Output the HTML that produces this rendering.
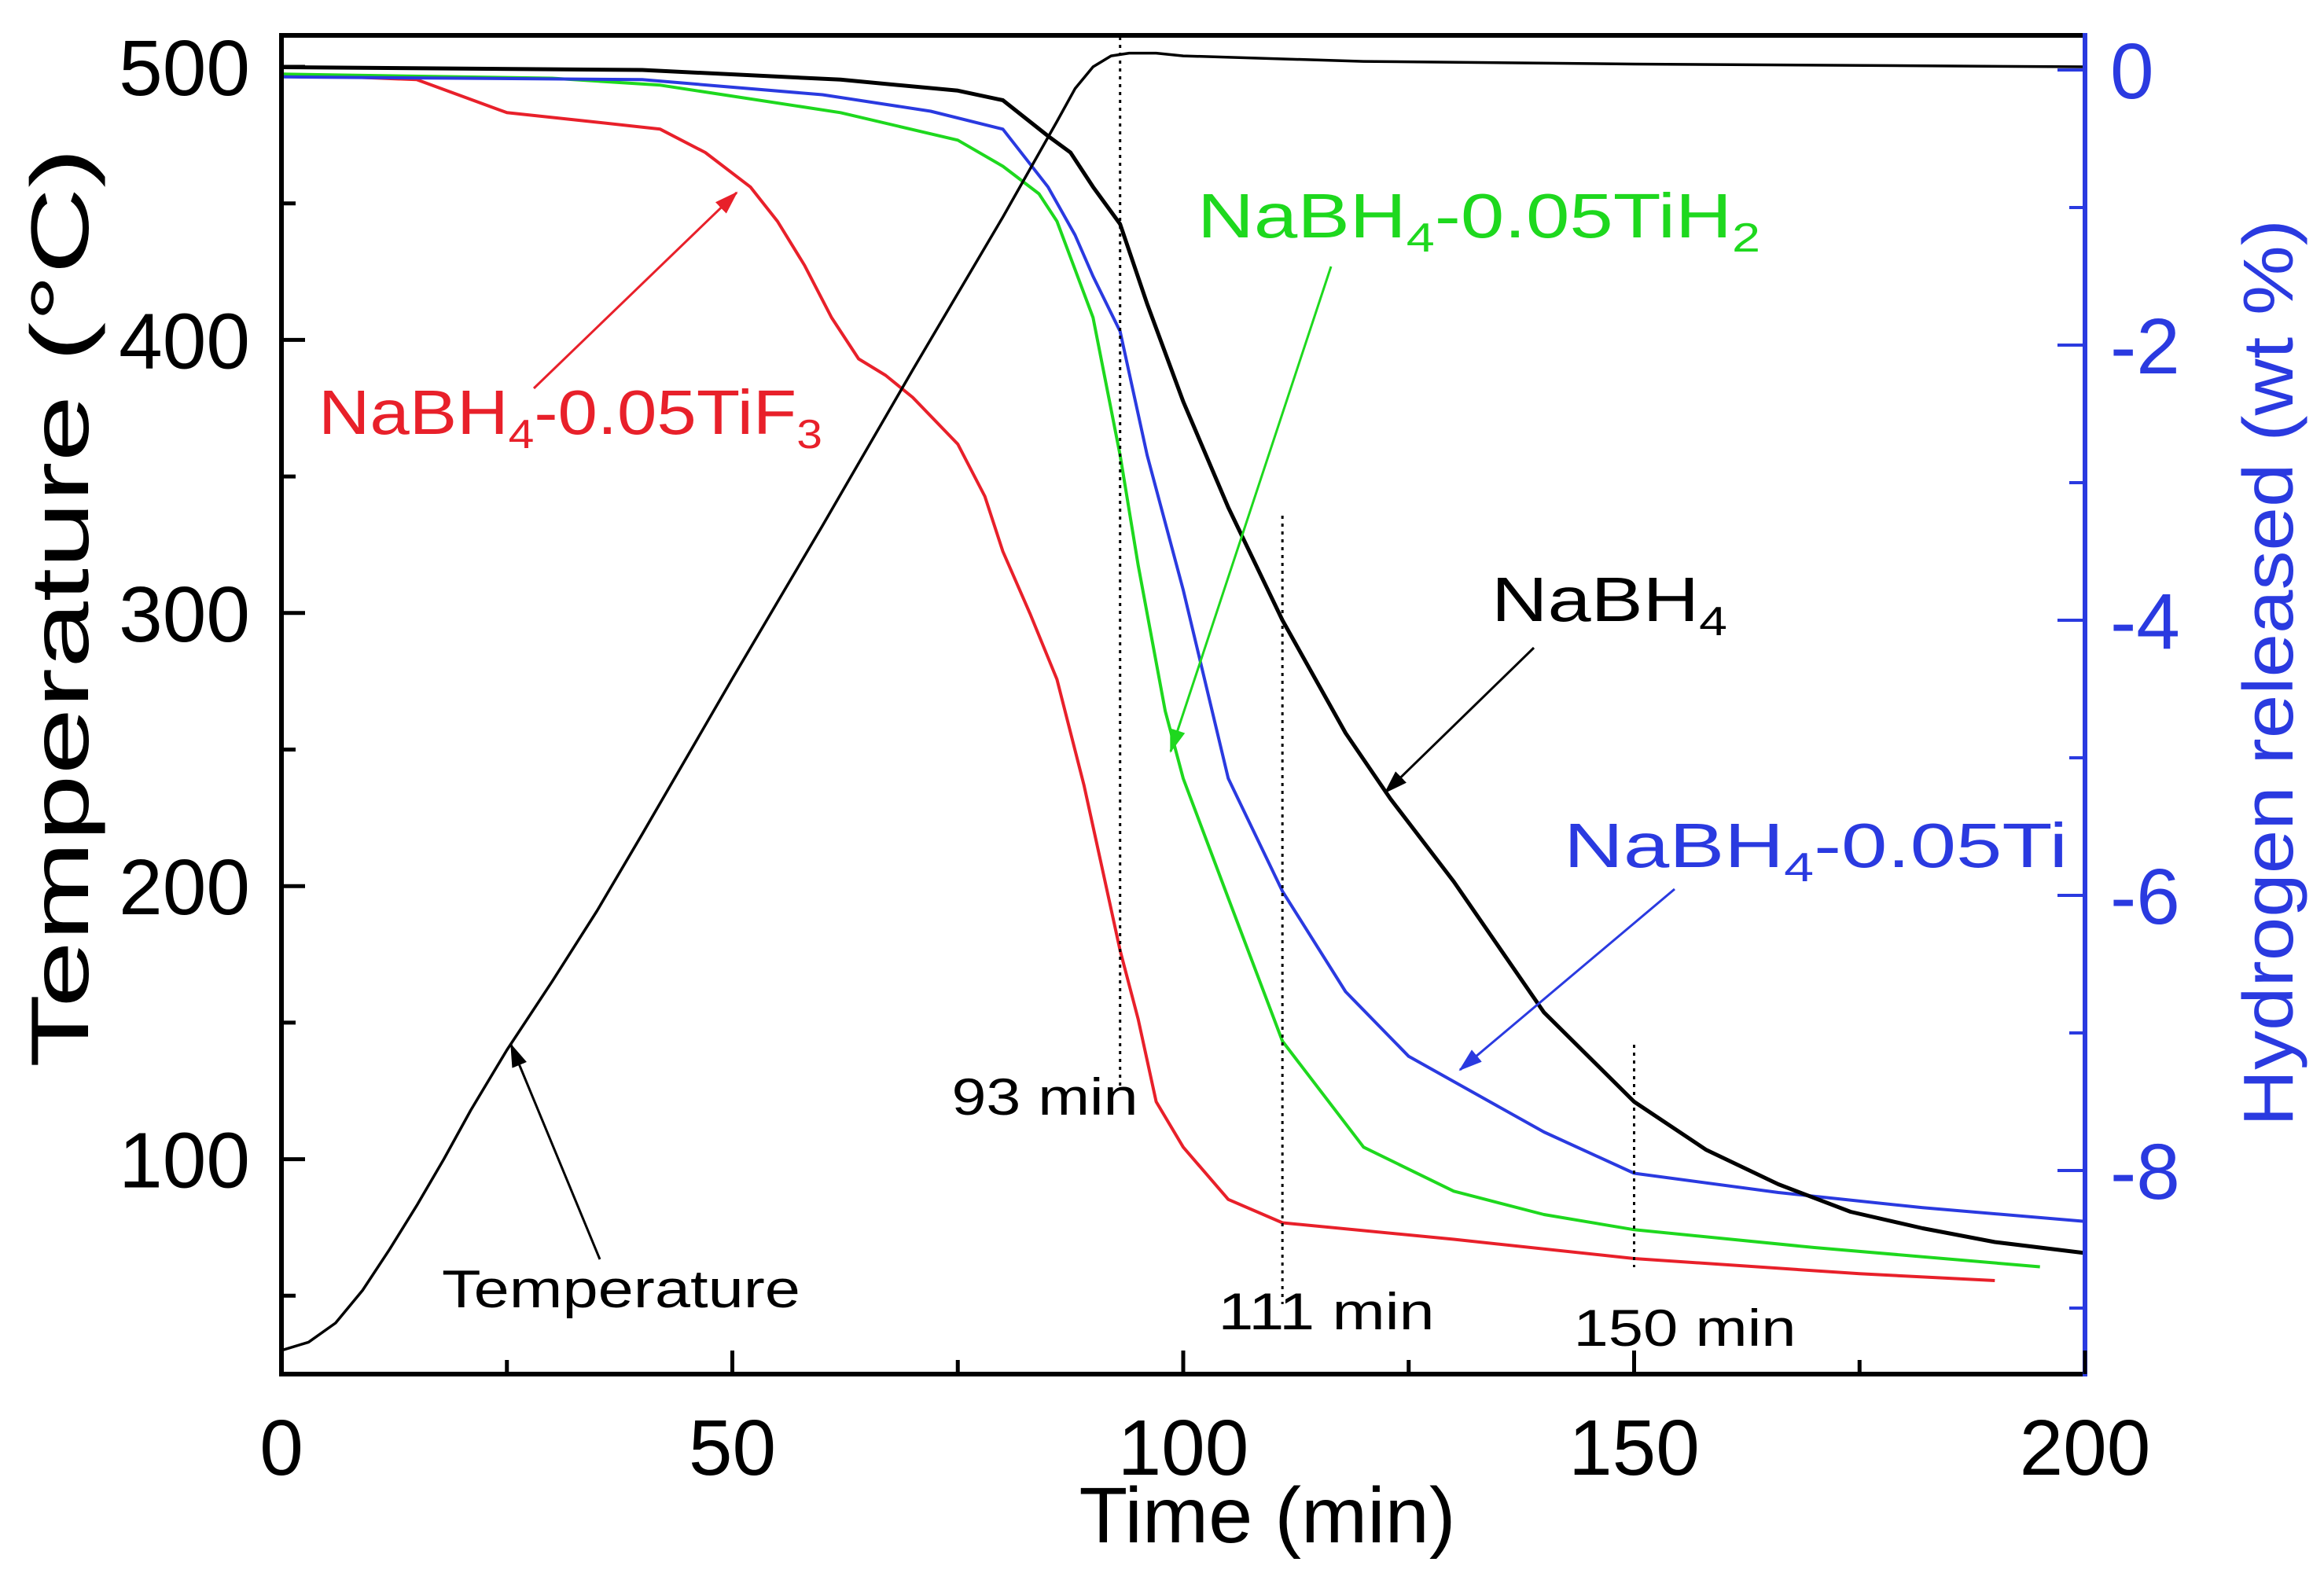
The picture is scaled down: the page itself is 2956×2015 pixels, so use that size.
<!DOCTYPE html>
<html><head><meta charset="utf-8"><style>
html,body{margin:0;padding:0;background:#fff;}
svg{display:block;font-family:"Liberation Sans",Arial,sans-serif;}
</style></head><body>
<svg id="chart" width="2956" height="2015" viewBox="0 0 2956 2015" xmlns="http://www.w3.org/2000/svg">
<g id="plot"></g>
</svg>
<script>
// ---- data ----
const tempTime = [0,3,6,9,12,15,18,21,25,30,35,40,50,60,70,80,86,88,90,92,94,97,100,120,150,200];
const tempValues = [30,33,40,52,67,83,100,118,140,165,191,219,276,332,389,445,480,492,500,504,505,505,504,502,501,500];
const naTime = [0,40,62,75,80,85,87.5,90,93,96,100,105,111,118,123,130,140,150,158,166,174,182,190,200];
const naValues = [0.02,0,-0.07,-0.15,-0.22,-0.48,-0.6,-0.85,-1.12,-1.7,-2.41,-3.18,-4.0,-4.82,-5.3,-5.9,-6.85,-7.5,-7.85,-8.1,-8.3,-8.42,-8.52,-8.6];
const tiTime = [0,40,60,72,80,85,88,90,93,96,100,105,111,118,125,140,150,166,182,200];
const tiValues = [-0.05,-0.07,-0.18,-0.3,-0.43,-0.85,-1.2,-1.5,-1.9,-2.8,-3.78,-5.15,-5.97,-6.7,-7.17,-7.72,-8.02,-8.16,-8.27,-8.37];
const tih2Time = [0,30,42,62,75,80,84,86,88,90,93,95,98,100,105,111,120,130,140,150,170,195];
const tih2Values = [-0.03,-0.06,-0.11,-0.31,-0.51,-0.7,-0.9,-1.1,-1.45,-1.8,-2.8,-3.6,-4.66,-5.15,-6.02,-7.06,-7.83,-8.15,-8.32,-8.43,-8.56,-8.7];
const tif3Time = [0,15,25,35,42,47,52,55,58,61,64,67,70,75,78,80,83,86,89,91,93,95,97,100,105,111,130,150,175,190];
const tif3Values = [-0.03,-0.07,-0.31,-0.38,-0.43,-0.6,-0.85,-1.1,-1.42,-1.8,-2.1,-2.22,-2.38,-2.72,-3.1,-3.5,-3.95,-4.43,-5.2,-5.8,-6.4,-6.9,-7.5,-7.83,-8.21,-8.38,-8.5,-8.64,-8.75,-8.8];
const xTicks = [0,50,100,150,200];
const leftTicks = [100,200,300,400,500];
const rightTicks = [0,-2,-4,-6,-8];
const markerTimes = [93,111,150];

// ---- axes ----
const L=358,R=2652,T=45,B=1748;
const xs = t => L + t*(R-L)/200;
const yL = v => 85 + (500-v)*3.474;
const yR = w => 89 - w*175;
const NS="http://www.w3.org/2000/svg";
const g=document.getElementById('plot');
function mk(tag,attrs,parent){const e=document.createElementNS(NS,tag);for(const k in attrs)e.setAttribute(k,attrs[k]);(parent||g).appendChild(e);return e;}

function series(ts,vs,yf,color,name,w){
  const d=ts.map((t,i)=>(i?'L':'M')+xs(t).toFixed(1)+','+yf(vs[i]).toFixed(1)).join(' ');
  const p=mk('path',{d:d,fill:'none',stroke:color,'stroke-width':w,'stroke-linejoin':'round'});
  
  
}
series(tif3Time,tif3Values,yR,'#e8202a','series-nabh4-tif3',4);
series(tih2Time,tih2Values,yR,'#1ed81e','series-nabh4-tih2',4);
series(tiTime,tiValues,yR,'#2a3ae0','series-nabh4-ti',4);
series(naTime,naValues,yR,'#000','series-nabh4',5);
series(tempTime,tempValues,yL,'#000','series-temperature',3.5);

const markerTop=[47,656,1329], markerBot=[1385,1659,1612];
markerTimes.forEach((m,i)=>{
  const l=mk('line',{x1:xs(m),x2:xs(m),y1:markerTop[i],y2:markerBot[i],stroke:'#000','stroke-width':3,'stroke-dasharray':'4,6'});
  
  
});

const fr=mk('path',{d:`M${R},${T} L${L},${T} L${L},${B} L${R},${B}`,fill:'none',stroke:'#000','stroke-width':6});


const ra=mk('line',{x1:R,x2:R,y1:T-3,y2:B+3,stroke:'#2a3ae0','stroke-width':6});



for(let t=0;t<=200;t+=25){
  const major=t%50===0;
  mk('line',{x1:xs(t),x2:xs(t),y1:B,y2:B-(major?30:18),stroke:'#000','stroke-width':5});
}
xTicks.forEach(t=>{
  const tx=mk('text',{x:xs(t),y:1876,'font-size':100,'text-anchor':'middle',fill:'#000'});
  tx.textContent=t;
  
  
});
for(let v=50;v<=500;v+=50){
  const major=v%100===0;
  mk('line',{x1:L,x2:L+(major?30:18),y1:yL(v),y2:yL(v),stroke:'#000','stroke-width':5});
}
leftTicks.forEach(v=>{
  const tx=mk('text',{x:318,y:yL(v)+36,'font-size':100,'text-anchor':'end',fill:'#000'});
  tx.textContent=v;
  
  
});
for(let w=0;w>=-9;w-=1){
  const major=w%2===0;
  mk('line',{x1:R,x2:R-(major?35:20),y1:yR(w),y2:yR(w),stroke:'#2a3ae0','stroke-width':4});
}
rightTicks.forEach(w=>{
  const tx=mk('text',{x:2684,y:yR(w)+36,'font-size':100,'text-anchor':'start',fill:'#2a3ae0'});
  tx.textContent=(w<0?'-':'')+Math.abs(w);
  
  
});
</script>
<svg style="position:absolute;left:0;top:0" width="2956" height="2015" viewBox="0 0 2956 2015" xmlns="http://www.w3.org/2000/svg" font-family="Liberation Sans, Arial, sans-serif">
<defs>
<marker id="a-k" markerWidth="30" markerHeight="20" refX="28" refY="10" orient="auto" markerUnits="userSpaceOnUse"><path d="M0,0 L30,10 L0,20 z" fill="#000"/></marker>
<marker id="a-r" markerWidth="30" markerHeight="20" refX="28" refY="10" orient="auto" markerUnits="userSpaceOnUse"><path d="M0,0 L30,10 L0,20 z" fill="#e8202a"/></marker>
<marker id="a-g" markerWidth="30" markerHeight="20" refX="28" refY="10" orient="auto" markerUnits="userSpaceOnUse"><path d="M0,0 L30,10 L0,20 z" fill="#1ed81e"/></marker>
<marker id="a-b" markerWidth="30" markerHeight="20" refX="28" refY="10" orient="auto" markerUnits="userSpaceOnUse"><path d="M0,0 L30,10 L0,20 z" fill="#2a3ae0"/></marker>
</defs>
<text transform="translate(112,773) rotate(-90)" font-size="104" text-anchor="middle" textLength="1170" lengthAdjust="spacingAndGlyphs" fill="#000">Temperature (°C)</text>
<text x="1612" y="1962" font-size="100" text-anchor="middle" textLength="479" lengthAdjust="spacingAndGlyphs" fill="#000">Time (min)</text>
<text transform="translate(2916,856) rotate(-90)" font-size="90" text-anchor="middle" textLength="1154" lengthAdjust="spacingAndGlyphs" fill="#2a3ae0">Hydrogen released (wt %)</text>

<text x="1329" y="1418" font-size="66" text-anchor="middle" textLength="237" lengthAdjust="spacingAndGlyphs" fill="#000">93 min</text>
<text x="1687" y="1691" font-size="66" text-anchor="middle" textLength="275" lengthAdjust="spacingAndGlyphs" fill="#000">111 min</text>
<text x="2143" y="1712" font-size="66" text-anchor="middle" textLength="283" lengthAdjust="spacingAndGlyphs" fill="#000">150 min</text>

<text x="405" y="552" font-size="80" textLength="641" lengthAdjust="spacingAndGlyphs" fill="#e8202a">NaBH<tspan font-size="52" dy="18">4</tspan><tspan dy="-18">-0.05TiF</tspan><tspan font-size="52" dy="18">3</tspan></text>
<text x="1523" y="302" font-size="80" textLength="716" lengthAdjust="spacingAndGlyphs" fill="#1ed81e">NaBH<tspan font-size="52" dy="18">4</tspan><tspan dy="-18">-0.05TiH</tspan><tspan font-size="52" dy="18">2</tspan></text>
<text x="1897" y="790" font-size="80" textLength="300" lengthAdjust="spacingAndGlyphs" fill="#000">NaBH<tspan font-size="52" dy="18">4</tspan></text>
<text x="1989" y="1103" font-size="80" textLength="641" lengthAdjust="spacingAndGlyphs" fill="#2a3ae0">NaBH<tspan font-size="52" dy="18">4</tspan><tspan dy="-18">-0.05Ti</tspan></text>
<text x="562" y="1663" font-size="68" textLength="456" lengthAdjust="spacingAndGlyphs" fill="#000">Temperature</text>

<line x1="679" y1="494" x2="937" y2="245" stroke="#e8202a" stroke-width="3" marker-end="url(#a-r)"/>
<line x1="1693" y1="339" x2="1489" y2="956" stroke="#1ed81e" stroke-width="3" marker-end="url(#a-g)"/>
<line x1="1951" y1="824" x2="1762" y2="1008" stroke="#000" stroke-width="3" marker-end="url(#a-k)"/>
<line x1="2130" y1="1131" x2="1857" y2="1361" stroke="#2a3ae0" stroke-width="3" marker-end="url(#a-b)"/>
<line x1="763" y1="1602" x2="650" y2="1329" stroke="#000" stroke-width="3" marker-end="url(#a-k)"/>
</svg>
</body></html>
